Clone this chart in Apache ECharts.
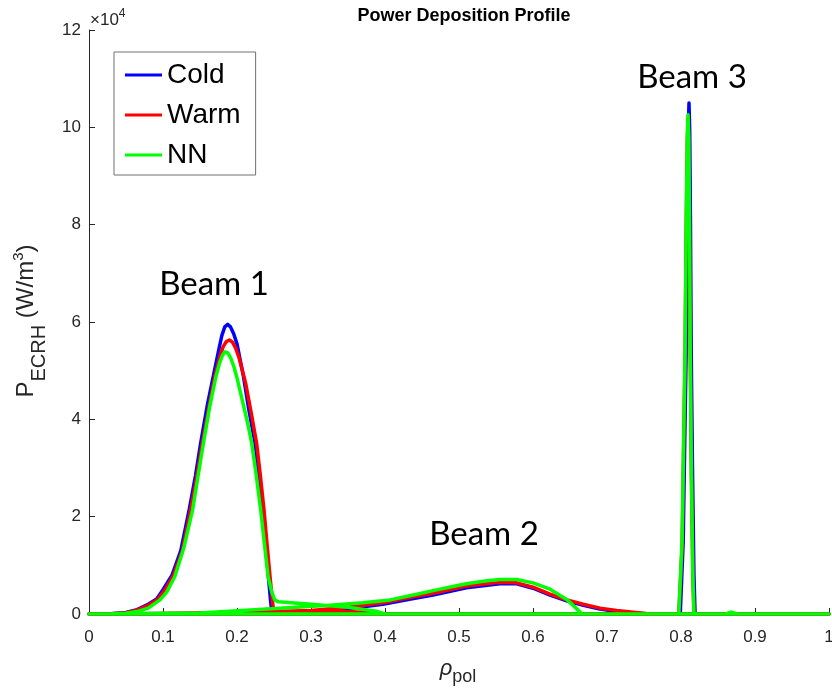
<!DOCTYPE html>
<html>
<head>
<meta charset="utf-8">
<script src="https://cdn.jsdelivr.net/npm/echarts@6/dist/echarts.min.js"></script>
<style>
html,body{margin:0;padding:0;background:#ffffff;}
#chart{width:832px;height:695px;}
</style>
</head>
<body>
<div id="chart"></div>
<script>
// ---------- data (P in units of 1e4 W/m^3) ----------
const seriesNames = ['Cold', 'Warm', 'NN'];
const seriesColors = ['#0000ff', '#ff0000', '#00ff00'];

// Each series = beam-1 profile, beam-2 profile, beam-3 profile (each on rho 0..1), concatenated
const coldRho = [
  0, 0.03, 0.05, 0.065, 0.08, 0.0915, 0.1, 0.112, 0.124, 0.1355, 0.144, 0.151, 0.16, 0.168, 0.175, 0.1795, 0.1835, 0.1874, 0.1912, 0.1955, 0.2, 0.2086, 0.216, 0.2243, 0.229, 0.234, 0.238, 0.2423, 0.2455, 0.2475, 1.0,
  0, 0.15, 0.22, 0.3, 0.35, 0.397, 0.433, 0.465, 0.51, 0.555, 0.578, 0.6, 0.623, 0.6455, 0.668, 0.6905, 0.713, 0.7356, 0.758, 1.0,
  0, 0.799, 0.803, 0.805, 0.807, 0.8085, 0.8098, 0.8108, 0.8118, 0.8128, 0.8138, 0.8155, 0.8175, 0.819, 1.0
];
const coldP = [
  0, 0.005, 0.03, 0.09, 0.2, 0.31, 0.5, 0.79, 1.3, 2.15, 2.85, 3.52, 4.3, 4.89, 5.4, 5.72, 5.9, 5.95, 5.9, 5.76, 5.55, 4.89, 4.2, 3.52, 2.9, 2.15, 1.5, 0.79, 0.25, 0, 0,
  0, 0.01, 0.02, 0.05, 0.11, 0.2, 0.3, 0.39, 0.54, 0.62, 0.62, 0.53, 0.39, 0.27, 0.18, 0.1, 0.05, 0.02, 0, 0,
  0, 0, 1.5, 3.5, 5.4, 8.0, 9.9, 10.5, 9.9, 8.0, 5.4, 3.0, 0.8, 0, 0
];

const warmRho = [
  0, 0.03, 0.05, 0.065, 0.08, 0.093, 0.102, 0.114, 0.126, 0.1374, 0.146, 0.153, 0.162, 0.17, 0.177, 0.1815, 0.1857, 0.1897, 0.1937, 0.198, 0.2025, 0.2116, 0.219, 0.2266, 0.2315, 0.2365, 0.2405, 0.2446, 0.248, 0.25, 0.27, 0.33, 0.38, 0.4, 1.0,
  0, 0.1, 0.2, 0.3, 0.35, 0.397, 0.433, 0.465, 0.51, 0.555, 0.578, 0.6, 0.623, 0.6455, 0.668, 0.6905, 0.713, 0.7356, 0.758, 1.0,
  0, 0.797, 0.8015, 0.8035, 0.8055, 0.807, 0.8085, 0.8095, 0.8105, 0.8115, 0.8125, 0.814, 0.816, 0.8175, 1.0
];
const warmP = [
  0, 0.005, 0.025, 0.08, 0.18, 0.3, 0.48, 0.79, 1.3, 2.14, 2.85, 3.5, 4.25, 4.88, 5.3, 5.5, 5.6, 5.63, 5.59, 5.47, 5.28, 4.75, 4.15, 3.5, 2.85, 2.14, 1.45, 0.77, 0.25, 0, 0.04, 0.06, 0.03, 0, 0,
  0, 0.01, 0.03, 0.07, 0.14, 0.23, 0.34, 0.425, 0.575, 0.65, 0.64, 0.55, 0.41, 0.29, 0.2, 0.12, 0.07, 0.035, 0, 0,
  0, 0, 1.4, 3.4, 5.3, 7.9, 9.7, 10.2, 9.7, 7.9, 5.3, 2.9, 0.8, 0, 0
];

const nnRho = [
  0, 0.03, 0.05, 0.065, 0.08, 0.096, 0.105, 0.116, 0.128, 0.14, 0.147, 0.1545, 0.163, 0.1716, 0.1765, 0.1805, 0.184, 0.1878, 0.1918, 0.1958, 0.2, 0.207, 0.214, 0.22, 0.226, 0.232, 0.237, 0.242, 0.247, 0.251, 0.256, 0.3, 0.35, 0.39, 0.4, 1.0,
  0, 0.15, 0.2176, 0.27, 0.33, 0.37, 0.4068, 0.435, 0.465, 0.49, 0.51, 0.535, 0.555, 0.578, 0.6, 0.623, 0.6455, 0.661, 0.666, 1.0,
  0, 0.797, 0.8015, 0.8035, 0.8055, 0.807, 0.8085, 0.8095, 0.8105, 0.8115, 0.8125, 0.814, 0.816, 0.8175, 0.86, 0.868, 0.876, 1.0
];
const nnP = [
  0, 0.003, 0.015, 0.05, 0.12, 0.29, 0.45, 0.77, 1.35, 2.14, 2.8, 3.5, 4.25, 4.88, 5.16, 5.32, 5.39, 5.36, 5.25, 5.08, 4.85, 4.4, 3.95, 3.5, 2.85, 2.14, 1.45, 0.77, 0.45, 0.29, 0.25, 0.2, 0.14, 0.05, 0, 0,
  0, 0.02, 0.08, 0.13, 0.185, 0.23, 0.29, 0.38, 0.48, 0.56, 0.62, 0.68, 0.71, 0.71, 0.64, 0.51, 0.30, 0.08, 0, 0,
  0, 0, 1.5, 3.5, 5.4, 8.0, 9.8, 10.26, 9.8, 8.0, 5.4, 3.0, 0.8, 0, 0, 0.04, 0, 0
];

const xTickLabels = ['0', '0.1', '0.2', '0.3', '0.4', '0.5', '0.6', '0.7', '0.8', '0.9', '1'];
const yTickLabels = ['0', '2', '4', '6', '8', '10', '12'];
const beamLabels = ['Beam 1', 'Beam 2', 'Beam 3'];

// ---------- chart ----------
const rhoArrays = [coldRho, warmRho, nnRho];
const pArrays = [coldP, warmP, nnP];
const pairs = (xs, ys) => xs.map((x, i) => [x, ys[i]]);

const axisColor = '#262626';
const font = 'Liberation Sans';

const chart = echarts.init(document.getElementById('chart'), null, {renderer: 'canvas'});
chart.setOption({
  animation: false,
  backgroundColor: '#ffffff',
  title: {
    text: 'Power Deposition Profile',
    left: 459, top: 2, textAlign: 'center',
    textStyle: {fontFamily: font, fontSize: 18, fontWeight: 'bold', color: '#000'}
  },
  grid: {left: 89, right: 3, top: 30, bottom: 81, containLabel: false, outerBoundsMode: 'none'},
  legend: {
    orient: 'vertical', left: 114, top: 52,
    padding: [7, 15, 4, 11],
    itemWidth: 37, itemHeight: 3, itemGap: 8, icon: 'rect',
    textStyle: {fontFamily: font, fontSize: 28, color: '#000', lineHeight: 32},
    borderColor: '#707070', borderWidth: 1, backgroundColor: '#fff',
    data: seriesNames
  },
  xAxis: {
    type: 'value', min: 0, max: 1, interval: 0.1,
    axisLine: {show: true, onZero: false, lineStyle: {color: axisColor, width: 1}},
    axisTick: {show: true, inside: true, length: 6, lineStyle: {color: axisColor}},
    splitLine: {show: false},
    axisLabel: {
      margin: 15, fontFamily: font, fontSize: 17, color: axisColor,
      hideOverlap: false,
      formatter: v => xTickLabels[Math.round(v * 10)]
    }
  },
  yAxis: {
    type: 'value', min: 0, max: 12, interval: 2,
    axisLine: {show: true, onZero: false, lineStyle: {color: axisColor, width: 1}},
    axisTick: {show: true, inside: true, length: 6, lineStyle: {color: axisColor}},
    splitLine: {show: false},
    axisLabel: {
      margin: 8, fontFamily: font, fontSize: 17, color: axisColor,
      formatter: v => yTickLabels[Math.round(v / 2)]
    }
  },
  series: seriesNames.map((name, k) => ({
    name: name, type: 'line',
    data: pairs(rhoArrays[k], pArrays[k]),
    showSymbol: false, symbol: 'none', clip: false, smooth: false,
    color: seriesColors[k],
    lineStyle: {color: seriesColors[k], width: 3.5, join: 'round', cap: 'round'}
  })),
  graphic: [
    {
      type: 'text', x: 90, y: 20,
      style: {
        text: '{a|×10}{b|4}',
        align: 'left', verticalAlign: 'middle',
        rich: {
          a: {fontFamily: font, fontSize: 17, fill: axisColor},
          b: {fontFamily: font, fontSize: 12, fill: axisColor, padding: [0, 0, 13, 0]}
        }
      }
    },
    {
      type: 'text', x: 26, y: 321, rotation: Math.PI / 2,
      style: {
        text: '{m|P}{s|ECRH}{m| (W/m}{p|3}{m|)}',
        align: 'center', verticalAlign: 'middle',
        rich: {
          m: {fontFamily: font, fontSize: 24, fill: axisColor},
          s: {fontFamily: font, fontSize: 20, fill: axisColor, padding: [27, 0, 0, 0]},
          p: {fontFamily: font, fontSize: 15, fill: axisColor, padding: [0, 0, 15, 0]}
        }
      }
    },
    {
      type: 'text', x: 458, y: 669,
      style: {
        text: '{m|ρ}{s|pol}',
        align: 'center', verticalAlign: 'middle',
        rich: {
          m: {fontFamily: font, fontSize: 22, fontStyle: 'italic', fill: axisColor},
          s: {fontFamily: font, fontSize: 18, fill: axisColor, padding: [16, 0, 0, 0]}
        }
      }
    },
    {type: 'text', x: 214, y: 284, style: {text: beamLabels[0], fontFamily: 'Lato', fontSize: 33, fill: '#000', align: 'center', verticalAlign: 'middle'}},
    {type: 'text', x: 484, y: 534, style: {text: beamLabels[1], fontFamily: 'Lato', fontSize: 33, fill: '#000', align: 'center', verticalAlign: 'middle'}},
    {type: 'text', x: 692, y: 77, style: {text: beamLabels[2], fontFamily: 'Lato', fontSize: 33, fill: '#000', align: 'center', verticalAlign: 'middle'}}
  ]
});
</script>
</body>
</html>
